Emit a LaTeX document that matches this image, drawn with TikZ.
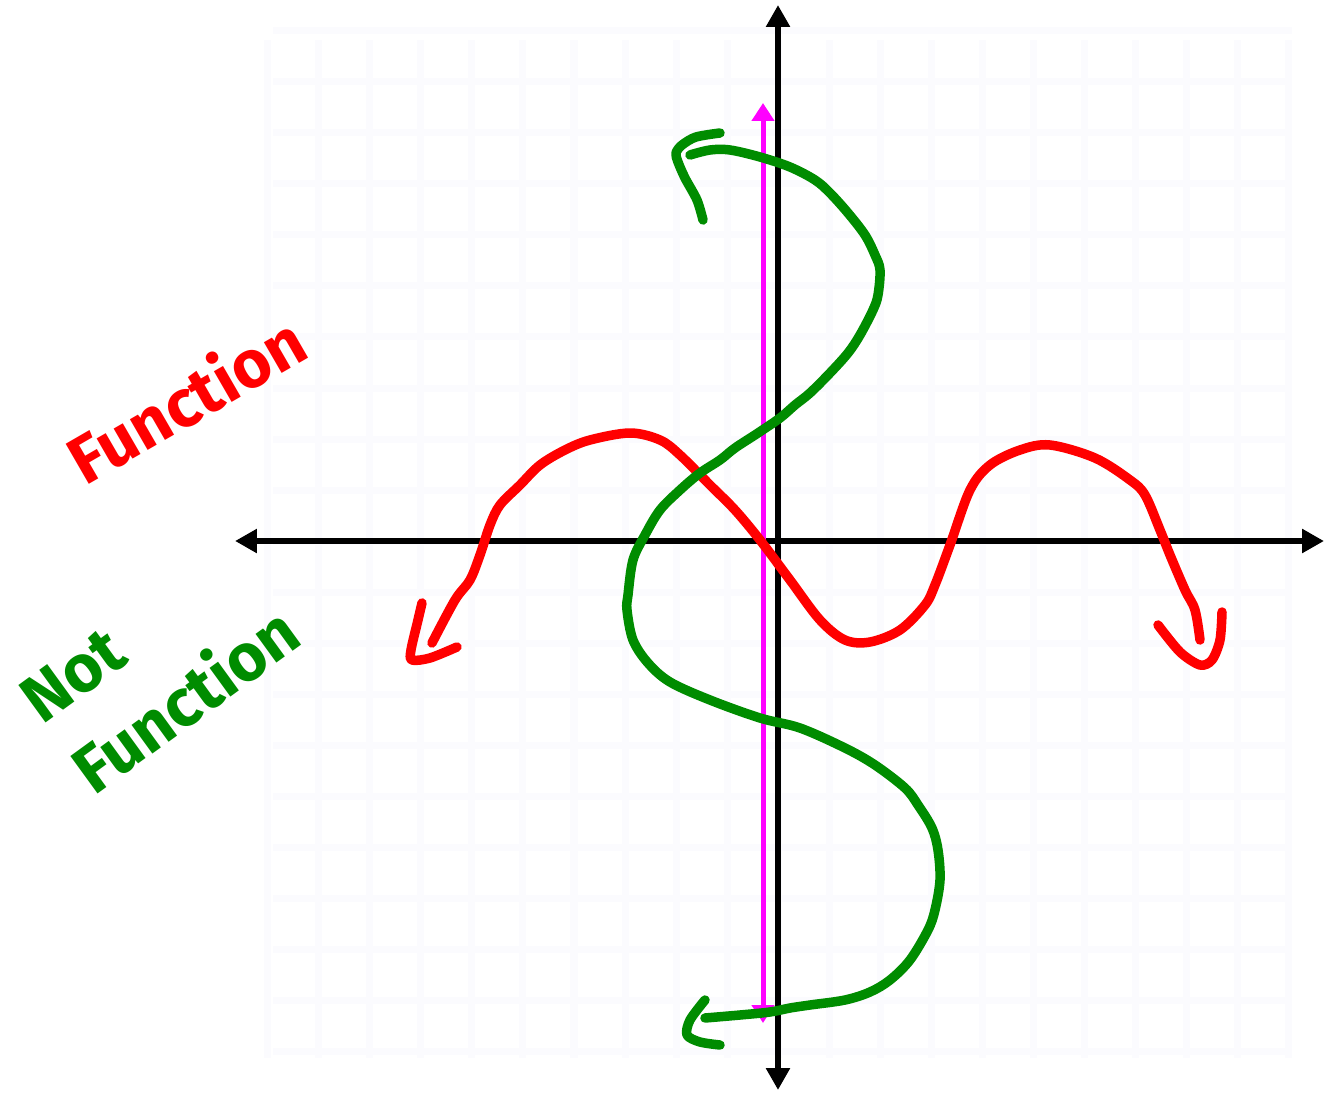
\documentclass[tikz,border=0pt]{standalone}
\usepackage{fontspec}
\newfontfamily\handfont{Fira Sans}
\usetikzlibrary{arrows.meta}

\definecolor{gridgray}{RGB}{251,251,254}
\definecolor{penred}{RGB}{255,0,0}
\definecolor{pengreen}{RGB}{0,140,0}
\definecolor{penmagenta}{RGB}{255,0,255}

\tikzset{
    gridline/.style={gridgray, line width=0.14cm},
    axis/.style={black, line width=0.11cm,
        {Triangle[length=0.44cm, width=0.46cm]}-{Triangle[length=0.44cm, width=0.46cm]}},
    vtest/.style={penmagenta, line width=0.10cm,
        {Triangle[length=0.36cm, width=0.44cm]}-{Triangle[length=0.36cm, width=0.44cm]}},
    pen/.style={line width=0.19cm, line cap=round, line join=round},
    label/.style={font=\handfont\bfseries\fontsize{38}{50}\selectfont, inner sep=0pt}
}

\begin{document}
\begin{tikzpicture}
    \useasboundingbox (-15.56,-11.06) rectangle (10.92,10.82);

    % faint grid paper
    \foreach \k in {-10,...,10} {
        \draw[gridline] (1.02*\k,-10.34) -- (1.02*\k,10.02);
        \draw[gridline] (-10.1,1.02*\k) -- (10.28,1.02*\k);
    }

    % axes
    \coordinate (xl) at (-10.86,0);
    \coordinate (xr) at (10.92,0);
    \coordinate (yb) at (0,-10.98);
    \coordinate (yt) at (0,10.72);
    \draw[axis] (xl) -- (xr);
    \draw[axis] (yb) -- (yt);

    % vertical line test
    \coordinate (vb) at (-0.3,-9.64);
    \coordinate (vt) at (-0.3,8.76);
    \draw[vtest] (vb) -- (vt);

    % red curve (a function)
    \draw[pen, penred] plot[smooth, tension=0.55] coordinates {
        (-6.92,-2.04) (-6.46,-1.18) (-6.16,-0.78) (-5.96,-0.28) (-5.76,0.32)
        (-5.56,0.72) (-5.16,1.12) (-4.76,1.52) (-4.26,1.82) (-3.76,2.02)
        (-2.96,2.16) (-2.36,2.02) (-1.96,1.72) (-1.36,1.12) (-0.86,0.62)
        (-0.36,0.02) (0.24,-0.78) (0.84,-1.58) (1.34,-1.98) (1.84,-2.02)
        (2.44,-1.78) (2.94,-1.28) (3.14,-0.88) (3.44,-0.08) (3.84,1.02)
        (4.24,1.52) (4.84,1.82) (5.44,1.92) (6.34,1.66) (7.04,1.22)
        (7.34,0.92) (7.64,0.22) (7.84,-0.28) (8.14,-0.98) (8.34,-1.38)
        (8.44,-1.98)};
    \draw[pen, penred] plot[smooth, tension=0.5] coordinates {
        (-6.42,-2.12) (-6.96,-2.34) (-7.32,-2.38) (-7.34,-2.18) (-7.2,-1.58)
        (-7.12,-1.24)};
    \draw[pen, penred] plot[smooth, tension=0.5] coordinates {
        (7.60,-1.68) (8.04,-2.22) (8.44,-2.48) (8.68,-2.38) (8.84,-1.98)
        (8.88,-1.42)};

    % green curve (not a function)
    \draw[pen, pengreen] plot[smooth, tension=0.55] coordinates {
        (-1.76,7.72) (-1.36,7.82) (-0.96,7.82) (-0.36,7.68) (0.24,7.48)
        (0.74,7.22) (1.04,6.96) (1.4,6.56) (1.74,6.12) (1.94,5.72)
        (2.04,5.42) (2.0,4.92) (1.9,4.62) (1.64,4.12) (1.4,3.76)
        (1.04,3.36) (0.64,2.96) (0.34,2.72) (0.04,2.46) (-0.4,2.16)
        (-0.86,1.86) (-1.16,1.62) (-1.56,1.36) (-1.96,1.02) (-2.36,0.62)
        (-2.66,0.12) (-2.9,-0.38) (-3.0,-1.08) (-3.02,-1.38) (-2.9,-1.98)
        (-2.6,-2.44) (-2.16,-2.82) (-1.36,-3.18) (-0.36,-3.54) (0.44,-3.74)
        (1.34,-4.14) (1.94,-4.48) (2.54,-4.94) (2.8,-5.28) (3.08,-5.74)
        (3.2,-6.18) (3.24,-6.78) (3.14,-7.38) (3.0,-7.78) (2.64,-8.38)
        (2.24,-8.78) (1.84,-9.02) (1.34,-9.18) (0.64,-9.28) (0.24,-9.34)
        (-0.16,-9.42) (-0.76,-9.48) (-1.46,-9.54)};
    \draw[pen, pengreen] plot[smooth, tension=0.5] coordinates {
        (-1.5,6.42) (-1.62,6.82) (-1.86,7.26) (-2.0,7.58) (-2.04,7.76)
        (-1.92,7.92) (-1.64,8.08) (-1.16,8.16)};
    \draw[pen, pengreen] plot[smooth, tension=0.5] coordinates {
        (-1.46,-9.18) (-1.76,-9.58) (-1.82,-9.88) (-1.56,-10.02) (-1.16,-10.08)};

    % labels
    \node[label, penred, rotate=30] (fn) at (-11.85,2.85) {Function};
    \node[label, pengreen, rotate=36, align=left] (notfn) at (-12.35,-2.5)
        {Not\\Function};
\end{tikzpicture}
\end{document}
